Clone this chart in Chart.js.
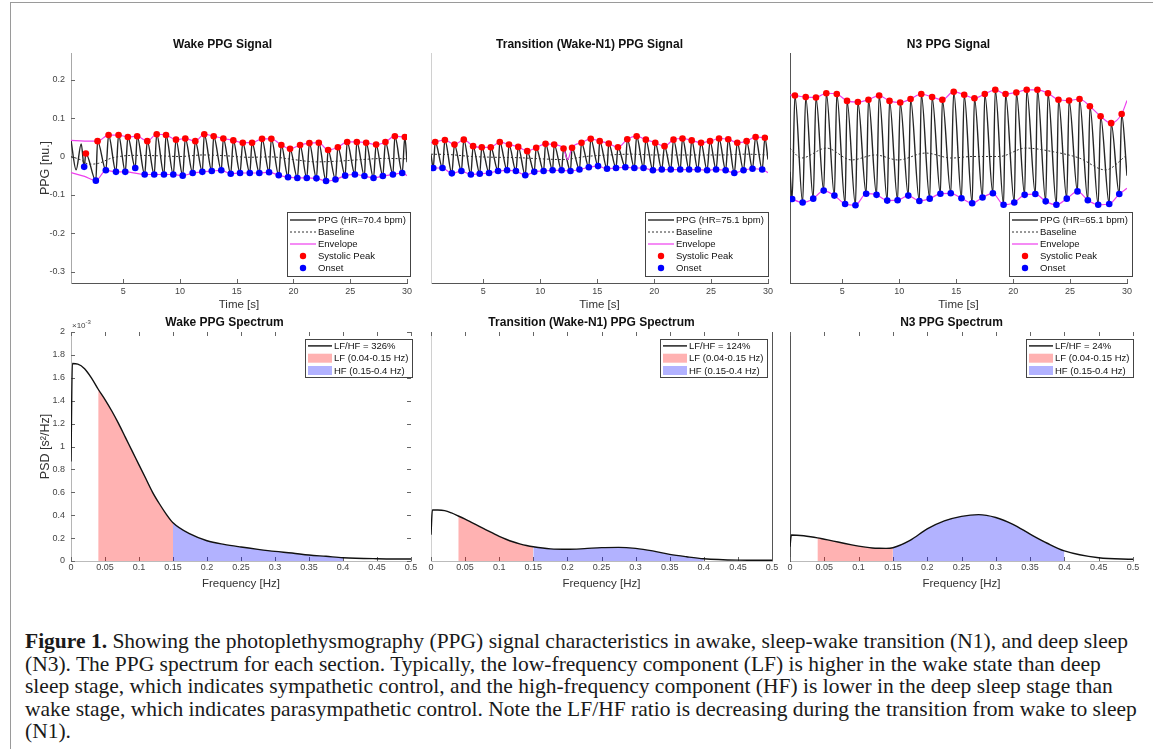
<!DOCTYPE html>
<html>
<head>
<meta charset="utf-8">
<script src="https://cdn.jsdelivr.net/npm/chart.js@4.4.1/dist/chart.umd.min.js"></script>
<style>
  html, body { margin: 0; padding: 0; background: #fff; }
  body { width: 1153px; height: 749px; position: relative; overflow: hidden; }
  .frame { position: absolute; left: 10px; top: 2px; width: 1143px; height: 747px;
           border-top: 1px solid #9a9a9a; border-left: 1px solid #9a9a9a; }
  canvas.panel { position: absolute; }
  #caption { position: absolute; left: 25px; top: 630px; font-family: "Liberation Serif", "Times New Roman", serif;
             font-size: 18px; color: #1a1a1a; }
  #caption div { white-space: nowrap; height: 22.5px; line-height: 22.5px; }
</style>
</head>
<body>
<div class="frame"></div>
<canvas id="c1" class="panel"></canvas>
<canvas id="c2" class="panel"></canvas>
<canvas id="c3" class="panel"></canvas>
<canvas id="c4" class="panel"></canvas>
<canvas id="c5" class="panel"></canvas>
<canvas id="c6" class="panel"></canvas>
<div id="caption">
  <div><span><b>Figure 1.</b> Showing the photoplethysmography (PPG) signal characteristics in awake, sleep-wake transition (N1), and deep sleep</span></div>
  <div><span>(N3). The PPG spectrum for each section. Typically, the low-frequency component (LF) is higher in the wake state than deep</span></div>
  <div><span>sleep stage, which indicates sympathetic control, and the high-frequency component (HF) is lower in the deep sleep stage than</span></div>
  <div><span>wake stage, which indicates parasympathetic control. Note the LF/HF ratio is decreasing during the transition from wake to sleep</span></div>
  <div><span>(N1).</span></div>
</div>
<script>
// PPG signal + spectrum per sleep stage — six Chart.js panels
const FONT = '"Liberation Sans", Arial, Helvetica, sans-serif';

// axis ticks
const timeTicks = [5, 10, 15, 20, 25, 30];
const ppgTicks = [-0.3, -0.2, -0.1, 0, 0.1, 0.2];
const freqTicks = [0, 0.05, 0.1, 0.15, 0.2, 0.25, 0.3, 0.35, 0.4, 0.45, 0.5];
const psdTicks = [0, 0.2, 0.4, 0.6, 0.8, 1, 1.2, 1.4, 1.6, 1.8, 2];   // x 10^-3
const lfBand = [0.04, 0.15];
const hfBand = [0.15, 0.4];

// ---- Wake signal (t in s, PPG in n.u.)
const wakePeakT = [1.71, 2.74, 3.71, 4.59, 5.41, 6.23, 7.12, 7.95, 8.77, 9.65, 10.47, 11.35, 12.14, 12.97, 13.82, 14.70, 15.53,
  16.35, 17.23, 18.05, 18.93, 19.70, 20.58, 21.40, 22.23, 23.05, 23.91, 24.73, 25.58, 26.40, 27.28, 28.10, 28.93, 29.81];
const wakePeakV = [0.008, 0.040, 0.056, 0.056, 0.051, 0.053, 0.040, 0.058, 0.056, 0.044, 0.047, 0.040, 0.058, 0.053, 0.047, 0.042, 0.036,
  0.036, 0.046, 0.046, 0.030, 0.020, 0.030, 0.035, 0.036, 0.017, 0.024, 0.038, 0.038, 0.036, 0.031, 0.038, 0.053, 0.051];
const wakeOnsetT = [1.56, 2.59, 3.47, 4.36, 5.18, 6.06, 6.89, 7.73, 8.59, 9.41, 10.24, 11.12, 11.97, 12.80, 13.64, 14.47, 15.29,
  16.15, 16.99, 17.85, 18.70, 19.52, 20.34, 21.17, 22.02, 22.87, 23.70, 24.55, 25.41, 26.25, 27.05, 27.87, 28.76, 29.58];
const wakeOnsetV = [-0.027, -0.063, -0.036, -0.040, -0.040, -0.030, -0.047, -0.047, -0.047, -0.047, -0.050, -0.043, -0.040, -0.038, -0.036, -0.045, -0.043,
  -0.043, -0.043, -0.041, -0.049, -0.054, -0.056, -0.056, -0.057, -0.064, -0.060, -0.050, -0.047, -0.051, -0.056, -0.051, -0.047, -0.043];
const wakeHeadT = [0.4, 0.85, 1.3], wakeHeadV = [0.042, -0.035, 0.033];
const wakeTailT = [30], wakeTailV = [-0.015];
const wakeUpT = [0.4, 1.6, 30], wakeUpV = [0.042, 0.040, 0.053];
const wakeLoT = [0.4, 1.6, 30], wakeLoV = [-0.042, -0.052, -0.050];
const wakeBaseT = [0.4, 1.2, 2.0, 2.8, 4, 6, 8, 10, 12, 14, 16, 18, 20, 22, 24, 26, 28, 30];
const wakeBaseV = [0.0, -0.008, -0.02, -0.018, -0.004, 0.003, 0.002, 0.0, 0.004, 0.002, -0.002, -0.001, -0.008, -0.014, -0.012, -0.008, -0.005, -0.006];

// ---- Transition (Wake-N1) signal
const transPeakT = [0.77, 1.62, 2.46, 3.28, 4.10, 4.86, 5.65, 6.44, 7.25, 8.06, 8.85, 9.64, 10.46, 11.22, 12.04, 12.79, 13.62, 14.43, 15.22,
  16.01, 16.82, 17.64, 18.46, 19.27, 20.10, 20.91, 21.70, 22.49, 23.30, 24.12, 24.91, 25.70, 26.51, 27.30, 28.12, 28.91, 29.73];
const transPeakV = [0.038, 0.043, 0.031, 0.044, 0.027, 0.024, 0.024, 0.038, 0.031, 0.025, 0.014, 0.023, 0.033, 0.031, 0.021, 0.023, 0.036, 0.046, 0.040,
  0.034, 0.024, 0.045, 0.053, 0.044, 0.036, 0.027, 0.044, 0.047, 0.042, 0.036, 0.040, 0.047, 0.045, 0.036, 0.040, 0.051, 0.049];
const transOnsetT = [0.60, 1.41, 2.23, 3.07, 3.90, 4.68, 5.50, 6.29, 7.08, 7.86, 8.68, 9.47, 10.29, 11.08, 11.87, 12.65, 13.44, 14.26, 15.07,
  15.86, 16.65, 17.47, 18.26, 19.07, 19.89, 20.67, 21.46, 22.29, 23.07, 23.83, 24.65, 25.44, 26.28, 27.04, 27.85, 28.64, 29.49];
const transOnsetV = [-0.030, -0.030, -0.044, -0.038, -0.047, -0.045, -0.043, -0.038, -0.036, -0.038, -0.049, -0.040, -0.038, -0.036, -0.036, -0.038, -0.034, -0.028, -0.025,
  -0.032, -0.030, -0.028, -0.030, -0.030, -0.036, -0.034, -0.034, -0.034, -0.034, -0.034, -0.036, -0.034, -0.036, -0.043, -0.036, -0.032, -0.034];
const transHeadT = [0.4], transHeadV = [0.005];
const transTailT = [30], transTailV = [-0.008];
const transUpT = [0.4, 12.4, 30], transUpV = [0.036, -0.008, 0.049];
const transLoT = [0.4, 30], transLoV = [-0.029, -0.042];
const transBaseT = [0.4, 2, 4, 6, 8, 10, 12, 14, 16, 18, 20, 22, 24, 26, 28, 30];
const transBaseV = [0.006, 0.005, 0.0, -0.002, -0.003, -0.006, -0.008, 0.0, 0.004, 0.006, 0.004, 0.004, 0.004, 0.004, 0.006, 0.004];

// ---- N3 signal
const n3PeakT = [0.83, 1.78, 2.68, 3.59, 4.51, 5.41, 6.36, 7.29, 8.23, 9.14, 10.08, 10.99, 11.93, 12.88, 13.78, 14.78,
  15.70, 16.60, 17.51, 18.43, 19.33, 20.28, 21.19, 22.13, 23.06, 23.98, 24.91, 25.83, 26.74, 27.68, 28.61, 29.53];
const n3PeakV = [0.159, 0.155, 0.154, 0.165, 0.163, 0.145, 0.142, 0.148, 0.159, 0.145, 0.141, 0.150, 0.163, 0.155, 0.148, 0.169,
  0.161, 0.152, 0.163, 0.174, 0.163, 0.167, 0.174, 0.174, 0.165, 0.148, 0.146, 0.150, 0.131, 0.105, 0.087, 0.111];
const n3OnsetT = [0.59, 1.51, 2.44, 3.36, 4.30, 5.24, 6.15, 7.09, 8.00, 8.94, 9.85, 10.79, 11.76, 12.67, 13.61, 14.52,
  15.46, 16.40, 17.31, 18.22, 19.16, 20.10, 21.01, 21.95, 22.86, 23.80, 24.71, 25.65, 26.56, 27.47, 28.44, 29.32];
const n3OnsetV = [-0.111, -0.120, -0.110, -0.089, -0.102, -0.124, -0.127, -0.097, -0.100, -0.115, -0.114, -0.102, -0.116, -0.110, -0.097, -0.096,
  -0.109, -0.122, -0.107, -0.096, -0.126, -0.120, -0.100, -0.098, -0.117, -0.126, -0.110, -0.091, -0.114, -0.126, -0.124, -0.098];
const n3HeadT = [0.4], n3HeadV = [-0.04];
const n3TailT = [30], n3TailV = [-0.05];
const n3UpT = [0.4, 30], n3UpV = [0.161, 0.146];
const n3LoT = [0.4, 30], n3LoV = [-0.108, -0.083];
const n3BaseT = [0.4, 1.4, 3.6, 5.8, 7.9, 9.9, 12.3, 14.6, 16.4, 18.8, 21.1, 23.4, 25.8, 28.1, 30];
const n3BaseV = [0.022, -0.004, 0.022, -0.009, 0.004, -0.009, 0.009, -0.004, 0.0, 0.0, 0.022, 0.013, -0.004, -0.035, 0.004];

// ---- spectra (frequency in Hz, PSD in 10^-3 s^2/Hz)
const freq = [0, 0.002, 0.01, 0.02, 0.03, 0.04, 0.05, 0.06, 0.07, 0.08, 0.09, 0.1, 0.11, 0.12, 0.13, 0.14, 0.15,
  0.175, 0.2, 0.225, 0.25, 0.275, 0.3, 0.325, 0.35, 0.375, 0.4, 0.45, 0.5];
const wakePsd = [0.87, 1.725, 1.72, 1.68, 1.60, 1.50, 1.41, 1.31, 1.20, 1.08, 0.96, 0.84, 0.72, 0.60, 0.50, 0.41, 0.334,
  0.236, 0.177, 0.145, 0.122, 0.102, 0.084, 0.070, 0.052, 0.041, 0.029, 0.020, 0.017];
const transPsd = [0.23, 0.445, 0.445, 0.44, 0.42, 0.393, 0.365, 0.335, 0.305, 0.275, 0.245, 0.215, 0.19, 0.168, 0.15, 0.135, 0.124,
  0.106, 0.102, 0.108, 0.117, 0.119, 0.11, 0.088, 0.058, 0.037, 0.02, 0.008, 0.006];
const n3Psd = [0.125, 0.227, 0.225, 0.22, 0.212, 0.202, 0.19, 0.178, 0.166, 0.153, 0.141, 0.13, 0.121, 0.114, 0.111, 0.110, 0.116,
  0.18, 0.28, 0.35, 0.39, 0.405, 0.38, 0.32, 0.235, 0.155, 0.088, 0.028, 0.015];

function pts(ts, vs) { return ts.map((t, i) => ({ x: t, y: vs[i] })); }
function byX(a, b) { return a.x - b.x; }
function band(fs, vs, r) { return pts(fs, vs).filter(p => p.x >= r[0] - 1e-9 && p.x <= r[1] + 1e-9); }

function place(cv, area, pad) {
  cv.width = area[2] - area[0] + pad.l + pad.r;
  cv.height = area[3] - area[1] + pad.t + pad.b;
  cv.style.left = (area[0] - pad.l) + 'px';
  cv.style.top = (area[1] - pad.t) + 'px';
}

// legend box drawn inside the axes, MATLAB style
const boxLegend = {
  id: 'boxLegend',
  afterDraw(chart, args, o) {
    if (!o || !o.rowH) return;
    const ctx = chart.ctx, a = chart.chartArea;
    const items = chart.data.datasets.filter(d => d.label);
    ctx.save();
    ctx.font = o.size + 'px ' + FONT;
    const tw = Math.max(...items.map(d => ctx.measureText(d.label).width));
    const w = Math.round(o.textX + tw + 4), h = Math.round(items.length * o.rowH + o.padV);
    const left = Math.round(a.right + o.dx - w);
    const top = Math.round(o.anchor === 'top' ? a.top + o.dy : a.bottom - o.dy - h);
    ctx.fillStyle = '#fff';
    ctx.fillRect(left, top, w, h);
    ctx.strokeStyle = '#444';
    ctx.lineWidth = 1;
    ctx.strokeRect(left + 0.5, top + 0.5, w, h);
    items.forEach((d, i) => {
      const cy = top + o.padV / 2 + o.rowH * (i + 0.5);
      const x0 = left + 3, x1 = left + o.textX - 2;
      if (d.fill) {
        ctx.fillStyle = d.backgroundColor;
        ctx.fillRect(x0, cy - 4.5, x1 - x0, 9);
      } else if (d.showLine === false) {
        ctx.fillStyle = d.pointBackgroundColor;
        ctx.beginPath();
        ctx.arc((x0 + x1) / 2, cy, 3.2, 0, Math.PI * 2);
        ctx.fill();
      } else {
        ctx.strokeStyle = d.borderColor;
        ctx.lineWidth = d.borderWidth;
        ctx.setLineDash(d.borderDash || []);
        ctx.beginPath();
        ctx.moveTo(x0, cy);
        ctx.lineTo(x1, cy);
        ctx.stroke();
        ctx.setLineDash([]);
      }
      ctx.fillStyle = '#111';
      ctx.textBaseline = 'middle';
      ctx.textAlign = 'left';
      ctx.fillText(d.label, left + o.textX, cy + 0.5);
    });
    ctx.restore();
  }
};

// inward tick marks, optional box edge and exponent label
const inTicks = {
  id: 'inTicks',
  beforeDatasetsDraw(chart, args, o) {
    if (!o || !o.len) return;
    const { ctx, chartArea: a, scales: { x, y } } = chart;
    const L = o.len;
    ctx.save();
    ctx.strokeStyle = '#666';
    ctx.lineWidth = 1;
    ctx.beginPath();
    x.ticks.forEach(t => {
      const px = Math.round(x.getPixelForValue(t.value)) + 0.5;
      if (o.bottom) { ctx.moveTo(px, a.bottom); ctx.lineTo(px, a.bottom - L); }
      if (o.top) { ctx.moveTo(px, a.top); ctx.lineTo(px, a.top + L); }
    });
    y.ticks.forEach(t => {
      const py = Math.round(y.getPixelForValue(t.value)) + 0.5;
      if (o.left) { ctx.moveTo(a.left, py); ctx.lineTo(a.left + L, py); }
      if (o.right) { ctx.moveTo(a.right, py); ctx.lineTo(a.right - L, py); }
    });
    ctx.stroke();
    if (o.rightLine) {
      ctx.strokeStyle = o.rightLine;
      ctx.beginPath();
      ctx.moveTo(Math.round(a.right) + 0.5, a.top);
      ctx.lineTo(Math.round(a.right) + 0.5, a.bottom);
      ctx.stroke();
    }
    if (o.exp) {
      ctx.fillStyle = '#444';
      ctx.textBaseline = 'alphabetic';
      ctx.font = '8px ' + FONT;
      ctx.fillText('\u00d710', a.left + 1, a.top - 4);
      const w = ctx.measureText('\u00d710').width;
      ctx.font = '6px ' + FONT;
      ctx.fillText(o.exp, a.left + 1 + w, a.top - 8);
    }
    ctx.restore();
  }
};

Chart.register(boxLegend, inTicks);

function fixedTicks(list) { return sc => { sc.ticks = list.map(v => ({ value: v })); }; }

function signalDatasets(s) {
  const peaks = pts(s.peakT, s.peakV), onsets = pts(s.onsetT, s.onsetV);
  const ppg = pts(s.headT, s.headV).concat(onsets, peaks, pts(s.tailT, s.tailV)).sort(byX);
  const upper = pts(s.upT, s.upV).concat(peaks.filter((p, i) => !s.upSkip.includes(i))).sort(byX);
  const lower = pts(s.loT, s.loV).concat(onsets.filter((p, i) => !s.loSkip.includes(i))).sort(byX);
  const line = { pointRadius: 0, cubicInterpolationMode: 'monotone', fill: false };
  return [
    Object.assign({ label: 'PPG (HR=' + s.hr + ' bpm)', data: ppg, borderColor: '#262626', borderWidth: 1.4, order: 4 }, line),
    Object.assign({ label: 'Baseline', data: pts(s.baseT, s.baseV), borderColor: '#333', borderWidth: 1, borderDash: [2, 2], order: 3 }, line),
    Object.assign({ label: 'Envelope', data: upper, borderColor: '#ee3fee', borderWidth: 1.2, order: 2 }, line),
    Object.assign({ data: lower, borderColor: '#ee3fee', borderWidth: 1.2, order: 2 }, line),
    { label: 'Systolic Peak', data: peaks, showLine: false, pointRadius: 3.3, pointBackgroundColor: '#ff0000',
      borderColor: '#ff0000', pointBorderWidth: 0, order: 1 },
    { label: 'Onset', data: onsets, showLine: false, pointRadius: 3.3, pointBackgroundColor: '#0000ff',
      borderColor: '#0000ff', pointBorderWidth: 0, order: 1 }
  ];
}

const noGrid = { display: false, drawTicks: false };

function signalChart(id, area, s) {
  const pad = { l: s.showY ? 33 : 20, r: 16, t: 20, b: 29 };
  const cv = document.getElementById(id);
  place(cv, area, pad);
  return new Chart(cv, {
    type: 'line',
    data: { datasets: signalDatasets(s) },
    options: {
      responsive: false, animation: false, events: [],
      layout: { padding: { top: pad.t - 15.2, right: pad.r, left: 0, bottom: 0 } },
      plugins: {
        legend: { display: false },
        tooltip: { enabled: false },
        title: { display: true, text: s.title, color: '#111', font: { family: FONT, size: 12, weight: 'bold' },
                 padding: { top: 0, bottom: 0.8 } },
        boxLegend: { anchor: 'bottom', dx: s.legendDx, dy: 7, rowH: 12, padV: 4, textX: 31, size: 9.5 },
        inTicks: { len: 4, bottom: true, left: s.showY }
      },
      scales: {
        x: {
          type: 'linear', min: 0.4, max: 30,
          grid: noGrid, border: { color: '#555' },
          afterBuildTicks: fixedTicks(timeTicks),
          afterFit: sc => { sc.height = pad.b; },
          ticks: { padding: 3, color: '#444', font: { family: FONT, size: 9 }, maxRotation: 0, autoSkip: false,
                   callback: v => String(v) },
          title: { display: true, text: 'Time [s]', color: '#333', font: { family: FONT, size: 11.5 }, padding: 0 }
        },
        y: {
          min: -0.33, max: 0.27,
          grid: noGrid, border: { color: s.yBorder },
          afterBuildTicks: fixedTicks(ppgTicks),
          afterFit: sc => { sc.width = pad.l; },
          ticks: { display: s.showY, padding: 6, color: '#444', font: { family: FONT, size: 9 }, autoSkip: false,
                   callback: v => String(v) },
          title: { display: s.showY, text: 'PPG [nu.]', color: '#333', font: { family: FONT, size: 12.5 }, padding: 0 }
        }
      }
    }
  });
}

function spectrumChart(id, area, s) {
  const pad = { l: s.showY ? 33 : 20, r: 16, t: 20, b: 30 };
  const cv = document.getElementById(id);
  place(cv, area, pad);
  const curve = { pointRadius: 0, cubicInterpolationMode: 'monotone' };
  return new Chart(cv, {
    type: 'line',
    data: {
      datasets: [
        Object.assign({ label: 'LF/HF = ' + s.ratio + '%', data: pts(freq, s.psd), borderColor: '#111', borderWidth: 1.4,
                        fill: false, order: 0 }, curve),
        Object.assign({ label: 'LF (0.04-0.15 Hz)', data: band(freq, s.psd, lfBand), backgroundColor: 'rgba(255,0,0,0.3)',
                        borderColor: 'rgba(0,0,0,0)', borderWidth: 0, fill: 'origin', order: 1 }, curve),
        Object.assign({ label: 'HF (0.15-0.4 Hz)', data: band(freq, s.psd, hfBand), backgroundColor: 'rgba(0,0,255,0.3)',
                        borderColor: 'rgba(0,0,0,0)', borderWidth: 0, fill: 'origin', order: 1 }, curve)
      ]
    },
    options: {
      responsive: false, animation: false, events: [],
      layout: { padding: { top: pad.t - 16.2, right: pad.r, left: 0, bottom: 0 } },
      plugins: {
        legend: { display: false },
        tooltip: { enabled: false },
        title: { display: true, text: s.title, color: '#111', font: { family: FONT, size: 12, weight: 'bold' },
                 padding: { top: 0, bottom: 1.8 } },
        boxLegend: { anchor: 'top', dx: s.legendDx, dy: 7, rowH: 12.3, padV: 1.5, textX: 29, size: 9.5 },
        inTicks: { len: 4, bottom: true, top: true, left: s.showY, right: s.showY, rightLine: s.rightLine, exp: s.showY ? '-3' : '' }
      },
      scales: {
        x: {
          type: 'linear', min: 0, max: 0.5,
          grid: noGrid, border: { color: '#bbb' },
          afterBuildTicks: fixedTicks(freqTicks),
          afterFit: sc => { sc.height = pad.b; },
          ticks: { padding: 1.6, color: '#444', font: { family: FONT, size: 9 }, maxRotation: 0, autoSkip: false,
                   callback: v => String(v) },
          title: { display: true, text: 'Frequency [Hz]', color: '#333', font: { family: FONT, size: 11.5 }, padding: 0 }
        },
        y: {
          min: 0, max: 2,
          grid: noGrid, border: { color: s.yBorder },
          afterBuildTicks: fixedTicks(psdTicks),
          afterFit: sc => { sc.width = pad.l; },
          ticks: { display: s.showY, padding: 6, color: '#444', font: { family: FONT, size: 9 }, autoSkip: false,
                   callback: v => String(v) },
          title: { display: s.showY, text: 'PSD [s\u00b2/Hz]', color: '#333', font: { family: FONT, size: 12.5 }, padding: 0 }
        }
      }
    }
  });
}

signalChart('c1', [71, 53, 407, 283], {
  title: 'Wake PPG Signal', hr: '70.4', showY: true, yBorder: '#a8a8a8', legendDx: 3,
  peakT: wakePeakT, peakV: wakePeakV, onsetT: wakeOnsetT, onsetV: wakeOnsetV,
  headT: wakeHeadT, headV: wakeHeadV, tailT: wakeTailT, tailV: wakeTailV,
  upT: wakeUpT, upV: wakeUpV, upSkip: [0], loT: wakeLoT, loV: wakeLoV, loSkip: [0, 5],
  baseT: wakeBaseT, baseV: wakeBaseV
});
signalChart('c2', [431, 53, 768, 283], {
  title: 'Transition (Wake-N1) PPG Signal', hr: '75.1', showY: false, yBorder: '#d0d0d0', legendDx: 0,
  peakT: transPeakT, peakV: transPeakV, onsetT: transOnsetT, onsetV: transOnsetV,
  headT: transHeadT, headV: transHeadV, tailT: transTailT, tailV: transTailV,
  upT: transUpT, upV: transUpV, upSkip: [], loT: transLoT, loV: transLoV, loSkip: [],
  baseT: transBaseT, baseV: transBaseV
});
signalChart('c3', [790, 53, 1127, 283], {
  title: 'N3 PPG Signal', hr: '65.1', showY: false, yBorder: '#555', legendDx: 5,
  peakT: n3PeakT, peakV: n3PeakV, onsetT: n3OnsetT, onsetV: n3OnsetV,
  headT: n3HeadT, headV: n3HeadV, tailT: n3TailT, tailV: n3TailV,
  upT: n3UpT, upV: n3UpV, upSkip: [], loT: n3LoT, loV: n3LoV, loSkip: [],
  baseT: n3BaseT, baseV: n3BaseV
});

spectrumChart('c4', [71, 332, 411, 561], { title: 'Wake PPG Spectrum', ratio: 326, psd: wakePsd, showY: true, yBorder: '#b5b5b5', legendDx: 1 });
spectrumChart('c5', [431, 332, 772, 561], { title: 'Transition (Wake-N1) PPG Spectrum', ratio: 124, psd: transPsd, showY: false,
  yBorder: '#d0d0d0', legendDx: -5, rightLine: '#555' });
spectrumChart('c6', [790, 332, 1133, 561], { title: 'N3 PPG Spectrum', ratio: 24, psd: n3Psd, showY: false, yBorder: '#555', legendDx: 0 });

// fit caption so its first line spans the figure width
(function () {
  const cap = document.getElementById('caption');
  const first = cap.querySelector('span');
  const w = first.getBoundingClientRect().width;
  cap.style.fontSize = (18 * 1103 / w).toFixed(2) + 'px';
})();
</script>
</body>
</html>
